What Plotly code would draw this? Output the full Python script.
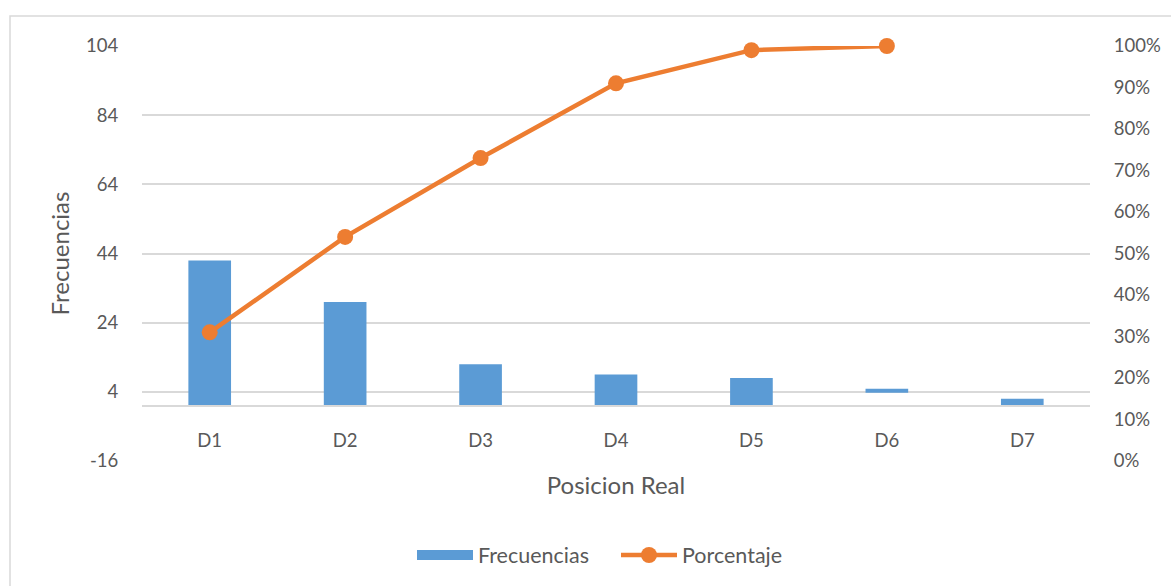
import plotly.graph_objects as go

# Categories and series
posiciones = ["D1", "D2", "D3", "D4", "D5", "D6", "D7"]
frecuencias = [42, 30, 12, 9, 8, 4.9, 2]
inicio_barra = [0, 0, 0, 0, 0, 3.7, 0]
porcentaje = [0.31, 0.54, 0.73, 0.91, 0.99, 1.00, None]

# Left axis ticks
ticks_frec = [-16, 4, 24, 44, 64, 84, 104]
ticks_frec_txt = ["-16", "4", "24", "44", "64", "84", "104"]

altura = [f - b for f, b in zip(frecuencias, inicio_barra)]

AZUL = "#5b9bd5"
NARANJA = "#ed7d31"
TXT = "#595959"
GRID = "#d9d9d9"
FONT = "Lato, 'Open Sans', sans-serif"

fig = go.Figure()
fig.add_trace(go.Bar(
    x=posiciones, y=altura, base=inicio_barra, name="Frecuencias",
    marker=dict(color=AZUL, line=dict(width=0)),
    yaxis="y", showlegend=False,
))
# legend swatch for the bars (wide block)
fig.add_trace(go.Scatter(
    x=[None], y=[None], name="Frecuencias", mode="lines",
    line=dict(color=AZUL, width=12), yaxis="y",
))
fig.add_trace(go.Scatter(
    x=posiciones, y=porcentaje, name="Porcentaje", mode="lines+markers",
    line=dict(color=NARANJA, width=4.5),
    marker=dict(color=NARANJA, size=16),
    yaxis="y2", cliponaxis=False,
))

fig.update_layout(
    width=1171, height=586,
    margin=dict(l=142, r=81, t=46, b=124),
    paper_bgcolor="white", plot_bgcolor="white",
    font=dict(family=FONT, color=TXT, size=18),
    bargap=0.685,
    showlegend=True,
    legend=dict(
        orientation="h", x=0.5, xanchor="center", y=-0.2236, yanchor="middle",
        font=dict(size=21.5, color=TXT), itemwidth=56, entrywidth=133,
        traceorder="normal",
    ),
    xaxis=dict(
        anchor="free", position=16 / 120, automargin=False,
        showline=True, linecolor=GRID, linewidth=1.5,
        ticks="outside", ticklen=18, tickcolor="rgba(0,0,0,0)",
        tickfont=dict(size=18.5, color=TXT),
        title=dict(text="Posicion Real", font=dict(size=24, color=TXT), standoff=27),
        showgrid=False, zeroline=False,
    ),
    yaxis=dict(
        range=[-16, 104], tickvals=ticks_frec, ticktext=ticks_frec_txt,
        automargin=False,
        showgrid=True, gridcolor=GRID, gridwidth=1.5,
        zeroline=False, showline=False,
        ticks="outside", ticklen=19, tickcolor="rgba(0,0,0,0)",
        tickfont=dict(size=18.5, color=TXT),
        title=dict(text="Frecuencias", font=dict(size=24, color=TXT), standoff=9),
    ),
    yaxis2=dict(
        overlaying="y", side="right", range=[0, 1], dtick=0.1, tickformat=".0%",
        automargin=False,
        showgrid=False, zeroline=False, showline=False,
        ticks="outside", ticklen=19, tickcolor="rgba(0,0,0,0)",
        tickfont=dict(size=18.5, color=TXT),
    ),
    shapes=[dict(
        type="rect", xref="paper", yref="paper",
        x0=-132 / 948, x1=1.2, y0=-0.5, y1=1 + 30 / 416,
        line=dict(color=GRID, width=1.5), fillcolor="rgba(0,0,0,0)", layer="below",
    )],
)

fig.write_html("out.html")
